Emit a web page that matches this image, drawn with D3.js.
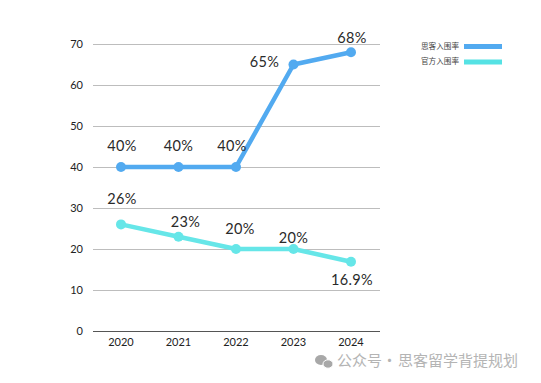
<!DOCTYPE html>
<html><head><meta charset="utf-8">
<script src="https://cdn.jsdelivr.net/npm/d3@7"></script>
<style>html,body{margin:0;padding:0;background:#fff;overflow:hidden}svg{display:block}</style>
</head><body><svg id="c" width="541" height="383"></svg>
<script>
const years = ["2020","2021","2022","2023","2024"];
const tickValues = [0,10,20,30,40,50,60,70];
const seriesNames = ["思客入围率","官方入围率"];
const colors = ["#52aaf0","#66e6e8"];
const legendColors = ["#52aaf0","#55e2e4"];
const clientValues = [40,40,40,65,68];
const officialValues = [26,23,20,20,16.9];
const clientLabels = ["40%","40%","40%","65%","68%"];
const officialLabels = ["26%","23%","20%","20%","16.9%"];
const clientOffsets = [[1,-16],[0,-16],[-4,-16],[-29,2],[1,-9]];
const officialOffsets = [[1,-20],[7,-10],[4,-15],[0,-6],[1,23]];
const watermarkParts = [["公众号",337],["·",382],["思客留学背提规划",398]];

const svg = d3.select("#c");
const font = "Lato, 'Open Sans', sans-serif";
const x = d3.scalePoint().domain(years).range([121,351]);
const y = d3.scaleLinear().domain([0,70]).range([331,44]);

svg.append("g").selectAll("line").data(tickValues).join("line")
  .attr("x1",93).attr("x2",380)
  .attr("y1",d=>Math.round(y(d))+.5).attr("y2",d=>Math.round(y(d))+.5)
  .attr("stroke",d=>d===0?"#555":"#bdbdbd").attr("stroke-width",1);

svg.append("g").selectAll("text").data(tickValues).join("text")
  .attr("x",83).attr("y",d=>y(d)+4).attr("text-anchor","end")
  .attr("font-family",font).attr("font-size",11).attr("fill","#222").text(d=>d);

svg.append("g").selectAll("text").data(years).join("text")
  .attr("x",d=>x(d)).attr("y",346).attr("text-anchor","middle")
  .attr("font-family",font).attr("font-size",11).attr("fill","#222").text(d=>d);

const line = d3.line().x((d,i)=>x(years[i])).y(d=>y(d));
[[clientValues,clientLabels,clientOffsets],[officialValues,officialLabels,officialOffsets]].forEach((s,k)=>{
  const g = svg.append("g");
  g.append("path").attr("d",line(s[0])).attr("fill","none")
    .attr("stroke",colors[k]).attr("stroke-width",4.5).attr("stroke-linejoin","round");
  g.selectAll("circle").data(s[0]).join("circle")
    .attr("cx",(d,i)=>x(years[i])).attr("cy",d=>y(d)).attr("r",5).attr("fill",colors[k]);
  g.selectAll("text").data(s[0]).join("text")
    .attr("x",(d,i)=>x(years[i])+s[2][i][0]).attr("y",(d,i)=>y(d)+s[2][i][1])
    .attr("text-anchor","middle").attr("font-family",font).attr("font-size",14.5).attr("letter-spacing",.3).attr("fill","#2a2a2a")
    .text((d,i)=>s[1][i]);
});

const lg = svg.append("g").selectAll("g").data(seriesNames).join("g")
  .attr("transform",(d,i)=>`translate(0,${46+i*15.5})`);
lg.append("text").attr("x",459).attr("y",2.5).attr("text-anchor","end")
  .attr("font-family","'Noto Sans CJK SC'").attr("font-size",7.6).attr("fill","#444").text(d=>d);
lg.append("rect").attr("x",464).attr("y",-2).attr("width",38).attr("height",5)
  .attr("fill",(d,i)=>legendColors[i]);

// watermark
const wm = svg.append("g").attr("fill","#a8a8a8");
wm.append("ellipse").attr("cx",321).attr("cy",360).attr("rx",6).attr("ry",5);
wm.append("ellipse").attr("cx",328).attr("cy",364).attr("rx",5).attr("ry",4.2).attr("stroke","#fff").attr("stroke-width",1);
svg.append("g").selectAll("text").data(watermarkParts).join("text")
  .attr("x",d=>d[1]).attr("y",366).attr("font-family","'Noto Sans CJK SC'")
  .attr("font-size",15).attr("fill","#b4b4b4").text(d=>d[0]);
</script></body></html>
